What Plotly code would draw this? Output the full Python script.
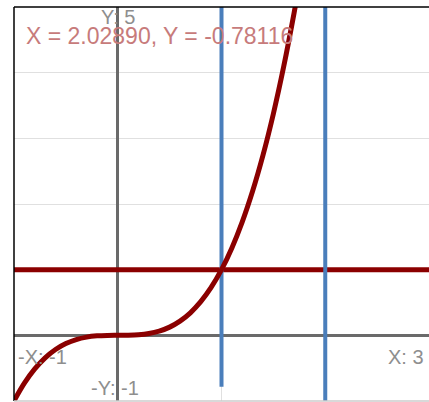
import plotly.graph_objects as go

# Curve points (cubic-looking curve)
curve_x = [-1.0, -0.9, -0.8, -0.7, -0.6, -0.5, -0.4, -0.3, -0.2, -0.1, 0.0,
           0.1, 0.2, 0.3, 0.4, 0.5, 0.6, 0.7, 0.8, 0.9, 1.0, 1.1, 1.2, 1.3,
           1.4, 1.5, 1.6, 1.7, 1.75]
curve_y = [-1.0, -0.729, -0.512, -0.343, -0.216, -0.125, -0.064, -0.027, -0.008, -0.001, 0.0,
           0.001, 0.008, 0.027, 0.064, 0.125, 0.216, 0.343, 0.512, 0.729, 1.0, 1.331, 1.728, 2.197,
           2.744, 3.375, 4.096, 4.913, 5.359]

h_line_x = [-1, 3]
h_line_y = [1, 1]
v1_x = [1, 1]
v1_y = [-0.78116, 5]
v2_x = [2, 2]
v2_y = [-1, 5]

readout = "X = 2.02890, Y = -0.78116"
labels = {"ymax": "Y: 5", "xmin": "-X: -1", "ymin": "-Y: -1", "xmax": "X: 3"}

fig = go.Figure()
fig.add_trace(go.Scatter(x=h_line_x, y=h_line_y, mode="lines",
                         line=dict(color="#8b0000", width=5), hoverinfo="skip"))
fig.add_trace(go.Scatter(x=v1_x, y=v1_y, mode="lines",
                         line=dict(color="#4a7ebb", width=4), hoverinfo="skip"))
fig.add_trace(go.Scatter(x=v2_x, y=v2_y, mode="lines",
                         line=dict(color="#4a7ebb", width=4), hoverinfo="skip"))
fig.add_trace(go.Scatter(x=curve_x, y=curve_y, mode="lines",
                         line=dict(color="#8b0000", width=5, shape="spline"), hoverinfo="skip"))

lab_font = dict(family="Liberation Sans, Arial", size=20, color="#8e8e8e")
fig.add_annotation(x=0, y=5, xref="x", yref="y", text=labels["ymax"], showarrow=False,
                   xanchor="center", yanchor="middle", yshift=-10, xshift=0, font=lab_font)
fig.add_annotation(x=-1, y=0, xref="x", yref="y", text=labels["xmin"], showarrow=False,
                   xanchor="left", yanchor="middle", yshift=-22, xshift=2, font=lab_font)
fig.add_annotation(x=0, y=-1, xref="x", yref="y", text=labels["ymin"], showarrow=False,
                   xanchor="center", yanchor="middle", yshift=13, xshift=-3, font=lab_font)
fig.add_annotation(x=3, y=0, xref="x", yref="y", text=labels["xmax"], showarrow=False,
                   xanchor="right", yanchor="middle", yshift=-22, xshift=-3, font=lab_font)
fig.add_annotation(x=0.024, y=0.927, xref="paper", yref="paper", text=readout, showarrow=False,
                   xanchor="left", yanchor="middle",
                   font=dict(family="Liberation Sans, Arial", size=23, color="#c77b7b"))

# borders
fig.add_shape(type="line", xref="paper", yref="paper", x0=0, x1=0, y0=0, y1=1,
              line=dict(color="black", width=1.5))
fig.add_shape(type="line", xref="paper", yref="paper", x0=0, x1=1, y0=1, y1=1,
              line=dict(color="black", width=1.5))
fig.add_shape(type="line", xref="paper", yref="paper", x0=0, x1=1, y0=0, y1=0,
              line=dict(color="#cccccc", width=1.5))

fig.update_layout(
    width=429, height=402,
    margin=dict(l=14, r=0, t=7, b=1),
    paper_bgcolor="white", plot_bgcolor="white",
    showlegend=False,
    xaxis=dict(range=[-1, 3], dtick=1, showticklabels=False, ticks="",
               showgrid=True, gridcolor="#e0e0e0", gridwidth=1,
               zeroline=True, zerolinecolor="#6a6a6a", zerolinewidth=2.5, fixedrange=True),
    yaxis=dict(range=[-1, 5], dtick=1, showticklabels=False, ticks="",
               showgrid=True, gridcolor="#e0e0e0", gridwidth=1,
               zeroline=True, zerolinecolor="#6a6a6a", zerolinewidth=2.5, fixedrange=True),
)

fig.write_html("out.html", config={"displayModeBar": False},
               post_script="document.body.style.margin='0';document.body.style.overflow='hidden';")
